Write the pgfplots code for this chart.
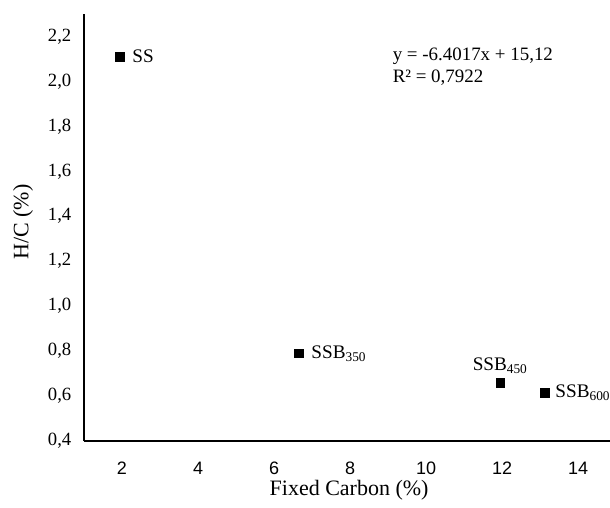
\documentclass[border=0pt]{standalone}
\usepackage{fontspec}
\setmainfont{Liberation Serif}
\newfontfamily\arialfont{Liberation Sans}
\usepackage{pgfplots}
\pgfplotsset{compat=1.18}
\begin{document}
\begin{tikzpicture}
\begin{axis}[
  scale only axis,
  width=394.5pt, height=320.25pt,
  xmin=1, xmax=14.84, ymin=0.4, ymax=2.3,
  axis lines*=left,
  axis line style={line width=1pt, black},
  xtick={2,4,...,14},
  ytick={0.4,0.6,...,2.2},
  major tick length=0pt,
  /pgf/number format/assume math mode=true,
  /pgf/number format/.cd, fixed, fixed zerofill, precision=1, use comma,
  /pgfplots/.cd,
  xticklabel style={font=\arialfont\fontsize{13.5}{15}\selectfont, yshift=-12.5pt},
  xticklabel={\pgfmathprintnumber[fixed,precision=0]{\tick}},
  yticklabel style={font=\fontsize{14}{16}\selectfont, xshift=-6pt},
  xlabel={Fixed Carbon (\%)},
  ylabel={H/C (\%)},
  xlabel style={font=\fontsize{16.5}{18}\selectfont, at={(axis description cs:0.504,-0.115)}, anchor=center},
  ylabel style={font=\fontsize{16.5}{18}\selectfont, at={(axis description cs:-0.116,0.513)}, anchor=center, rotate=0},
  clip=false,
]
\addplot[only marks, mark=square*, mark size=3.3pt, black] coordinates {
  (1.95,2.11) (6.66,0.79) (11.95,0.66) (13.13,0.615)
};
\node[anchor=west, font=\fontsize{14.4}{16}\selectfont] at (axis cs:2.15,2.11) {SS};
\node[anchor=west, font=\fontsize{14.4}{16}\selectfont] at (axis cs:6.86,0.79) {SSB\textsubscript{350}};
\node[anchor=south, font=\fontsize{14.4}{16}\selectfont] at (axis cs:11.95,0.68) {SSB\textsubscript{450}};
\node[anchor=west, font=\fontsize{14.4}{16}\selectfont] at (axis cs:13.28,0.615) {SSB\textsubscript{600}};
\node[anchor=west, font=\fontsize{14.2}{16}\selectfont] at (axis cs:9.0,2.112) {y = -6.4017x + 15,12};
\node[anchor=west, font=\fontsize{14.2}{16}\selectfont] at (axis cs:9.0,2.015) {R² = 0,7922};
\end{axis}
\pgfresetboundingbox
\path[use as bounding box] ([xshift=-63pt,yshift=-49.5pt]current axis.south west) rectangle ([yshift=10.5pt]current axis.north east);
\end{tikzpicture}
\end{document}
